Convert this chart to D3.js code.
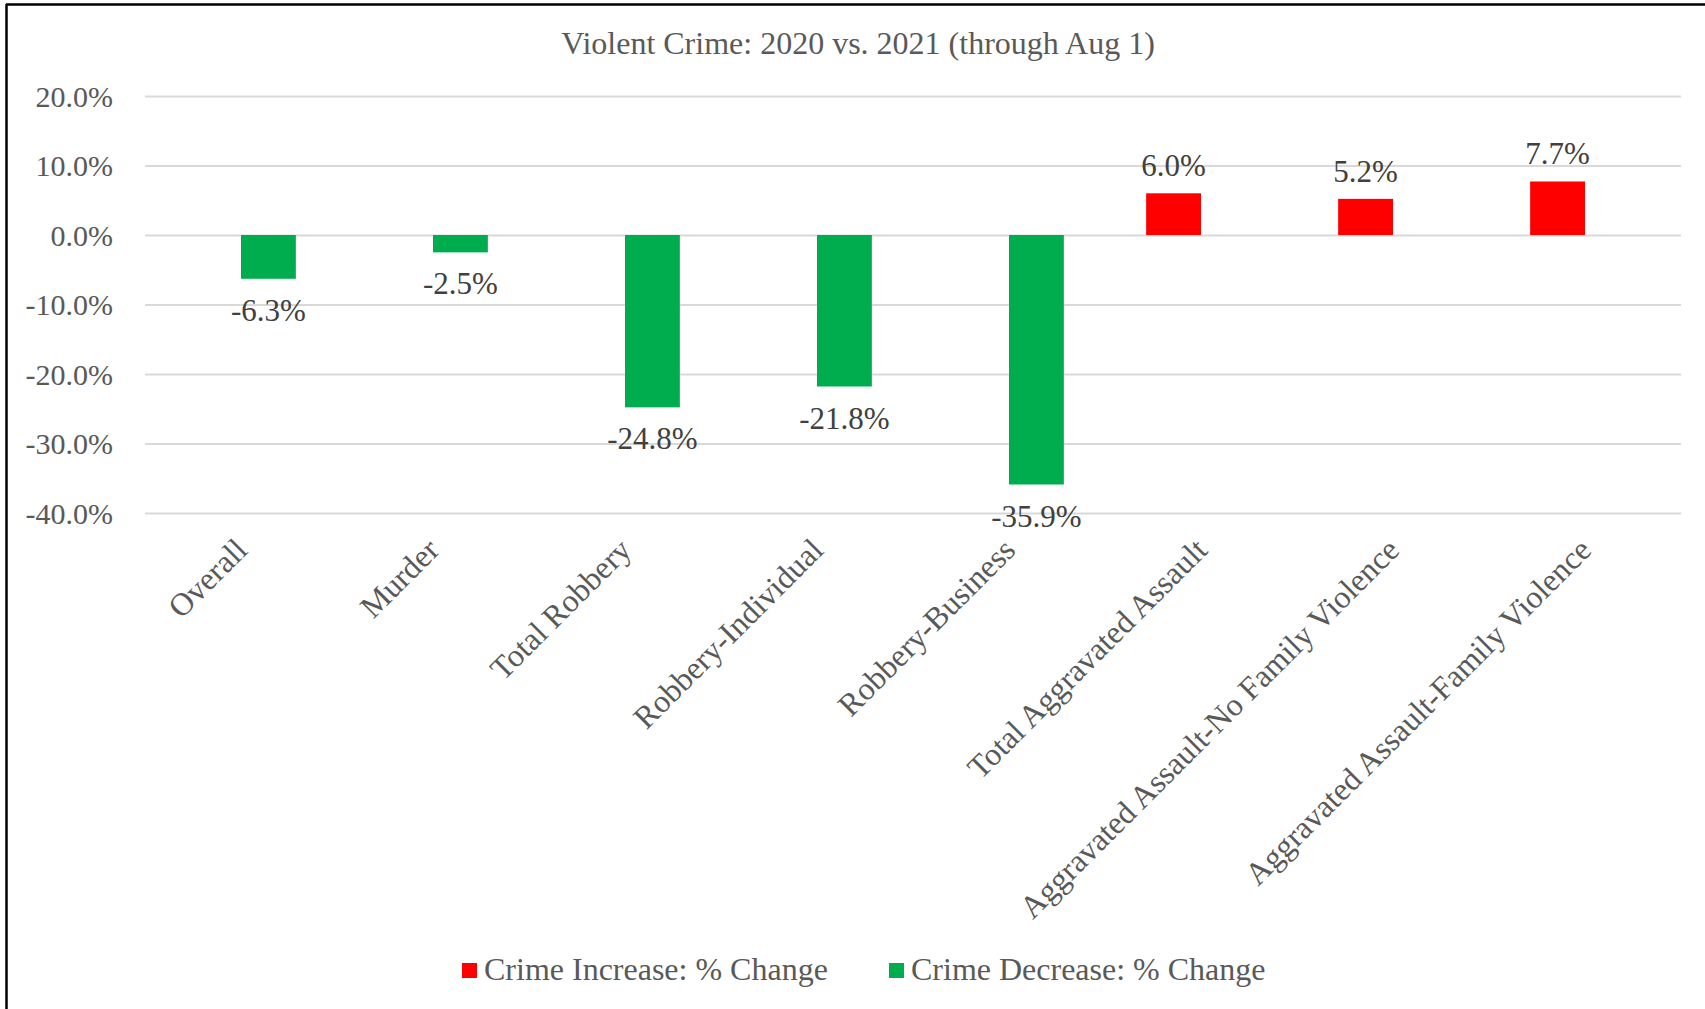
<!DOCTYPE html>
<html>
<head>
<meta charset="utf-8">
<script src="https://d3js.org/d3.v7.min.js"></script>
<style>
  body { margin: 0; background: #fff; }
  text { font-family: "Liberation Serif", "Times New Roman", serif; }
  .grid line { stroke: #d9d9d9; stroke-width: 2; }
  .grid path { display: none; }
</style>
</head>
<body>
<div id="graphed"></div>
<script>
// chart data
const categories = ["Overall", "Murder", "Total Robbery", "Robbery-Individual", "Robbery-Business",
  "Total Aggravated Assault", "Aggravated Assault-No Family Violence", "Aggravated Assault-Family Violence"];
const increaseValues = [null, null, null, null, null, 6.0, 5.2, 7.7];
const decreaseValues = [-6.3, -2.5, -24.8, -21.8, -35.9, null, null, null];
const seriesNames = ["Crime Increase: % Change", "Crime Decrease: % Change"];
const seriesColors = ["#ff0000", "#00ad4e"];
const yTicks = [20, 10, 0, -10, -20, -30, -40];
const chartTitle = "Violent Crime: 2020 vs. 2021 (through Aug 1)";

// set the dimensions and margins
let fullWidth = 1705, fullHeight = 1009;
let margin = { top: 96, right: 24, bottom: 496, left: 145 },
  width = fullWidth - margin.left - margin.right,
  height = fullHeight - margin.top - margin.bottom;

let svg = d3.select("#graphed").append("svg")
  .attr("width", fullWidth)
  .attr("height", fullHeight);

// outer frame (left and top edges only visible)
svg.append("line").attr("x1", 6.5).attr("x2", 6.5).attr("y1", 4).attr("y2", fullHeight)
  .attr("stroke", "#000").attr("stroke-width", 2.5);
svg.append("line").attr("x1", 6).attr("x2", fullWidth).attr("y1", 4.5).attr("y2", 4.5)
  .attr("stroke", "#000").attr("stroke-width", 2.5);

let g = svg.append("g")
  .attr("transform", "translate(" + margin.left + "," + margin.top + ")");

// scales
let x = d3.scaleBand().domain(categories).range([0, width]).padding(0);
let x1 = d3.scaleBand().domain([0, 1]).range([0, x.bandwidth()]).paddingInner(0).paddingOuter(0.75);
let y = d3.scaleLinear().domain([-40, 20]).range([height, 0]);

// gridlines
g.append("g")
  .attr("class", "grid")
  .call(d3.axisLeft(y).tickValues(yTicks).tickSize(-width).tickFormat(""));

// y axis labels
g.append("g")
  .selectAll("text")
  .data(yTicks)
  .join("text")
  .attr("x", -32)
  .attr("y", d => y(d))
  .attr("dy", "0.36em")
  .attr("text-anchor", "end")
  .attr("fill", "#595959")
  .style("font-size", "30px")
  .text(d => d.toFixed(1) + "%");

// bars
let series = [increaseValues, decreaseValues];
series.forEach((vals, s) => {
  let pts = categories.map((c, i) => ({ cat: c, v: vals[i] })).filter(d => d.v !== null);
  g.append("g")
    .selectAll("rect")
    .data(pts)
    .join("rect")
    .attr("x", d => x(d.cat) + x1(s))
    .attr("width", x1.bandwidth())
    .attr("y", d => y(Math.max(0, d.v)))
    .attr("height", d => Math.abs(y(d.v) - y(0)))
    .attr("fill", seriesColors[s]);

  // data labels
  g.append("g")
    .selectAll("text")
    .data(pts)
    .join("text")
    .attr("x", d => x(d.cat) + x1(s) + x1.bandwidth() / 2)
    .attr("y", d => d.v < 0 ? y(d.v) + 42 : y(d.v) - 17)
    .attr("text-anchor", "middle")
    .attr("fill", "#404040")
    .style("font-size", "31px")
    .text(d => d.v.toFixed(1) + "%");
});

// category labels
g.append("g")
  .selectAll("text")
  .data(categories)
  .join("text")
  .attr("transform", d => "translate(" + (x(d) + x.bandwidth() / 2 + 8) + "," + (height + 39) + ") rotate(-45)")
  .attr("text-anchor", "end")
  .attr("fill", "#595959")
  .style("font-size", "32px")
  .text(d => d);

// title
svg.append("text")
  .attr("x", 858)
  .attr("y", 54)
  .attr("text-anchor", "middle")
  .attr("fill", "#595959")
  .style("font-size", "32px")
  .text(chartTitle);

// legend
let legendX = [462, 889];
seriesNames.forEach((name, s) => {
  svg.append("rect")
    .attr("x", legendX[s]).attr("y", 963)
    .attr("width", 15).attr("height", 15)
    .attr("fill", seriesColors[s]);
  svg.append("text")
    .attr("x", legendX[s] + 22).attr("y", 980)
    .attr("fill", "#595959")
    .style("font-size", "32px")
    .text(name);
});
</script>
</body>
</html>
